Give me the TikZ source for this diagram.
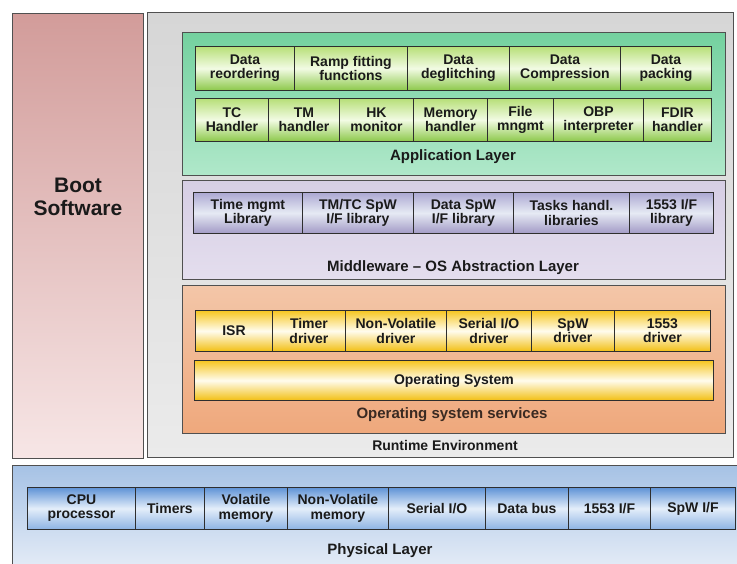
\documentclass[tikz,border=0pt]{standalone}
\usepackage{fontspec}
\setmainfont{Liberation Sans}
\usetikzlibrary{shadings}
\definecolor{txt}{HTML}{1A1A1A}
\definecolor{boxline}{HTML}{2E2E2E}
\definecolor{layline}{HTML}{505050}
\definecolor{bootT}{HTML}{D29C9A}
\definecolor{bootB}{HTML}{F7E6E6}
\definecolor{rteT}{HTML}{D6D6D6}
\definecolor{rteB}{HTML}{EBEBEB}
\definecolor{appLT}{HTML}{74D19F}
\definecolor{appLB}{HTML}{B0E8CA}
\definecolor{appT}{HTML}{B7DF78}
\definecolor{appM}{HTML}{F2FBE4}
\definecolor{appB}{HTML}{8CC84A}
\definecolor{mwT}{HTML}{D6CEE4}
\definecolor{mwB}{HTML}{E4DEEE}
\definecolor{libT}{HTML}{ACA8D2}
\definecolor{libM}{HTML}{E6EAF4}
\definecolor{libB}{HTML}{A29AC6}
\definecolor{osT}{HTML}{F3C6A8}
\definecolor{osB}{HTML}{EFA87C}
\definecolor{drvT}{HTML}{F6C620}
\definecolor{drvM}{HTML}{FFFCEE}
\definecolor{drvB}{HTML}{F2BF12}
\definecolor{phyT}{HTML}{A6C2E5}
\definecolor{phyB}{HTML}{E9EFF8}
\definecolor{pbT}{HTML}{5F93D6}
\definecolor{pbM}{HTML}{E4EEFA}
\definecolor{pbB}{HTML}{8DB3E3}
\definecolor{osstxt}{HTML}{3A2A22}
\tikzset{
  cell/.style={draw=boxline, line width=0.9pt, inner sep=0pt, align=center,
    font=\bfseries\fontsize{14}{14.2}\selectfont, text=txt},
  appcell/.style={cell, top color=appT, bottom color=appB, middle color=appM},
  libcell/.style={cell, top color=libT, bottom color=libB, middle color=libM},
  drvcell/.style={cell, top color=drvT, bottom color=drvB, middle color=drvM},
  phycell/.style={cell, top color=pbT, bottom color=pbB, middle color=pbM},
  layer/.style={draw=layline, line width=1.1pt, inner sep=0pt},
  bootlayer/.style={layer, top color=bootT, bottom color=bootB},
  rtelayer/.style={layer, top color=rteT, bottom color=rteB},
  applayer/.style={layer, top color=appLT, bottom color=appLB},
  mwlayer/.style={layer, top color=mwT, bottom color=mwB},
  oslayer/.style={layer, top color=osT, bottom color=osB},
  phylayer/.style={layer, top color=phyT, bottom color=phyB},
  laylbl/.style={font=\bfseries\fontsize{15}{15}\selectfont, text=txt, inner sep=0pt},
}
\newcommand\cellbox[7]{% style, name, x1, y1, x2, y2, text
  \node[#1, anchor=north west, minimum width={(#5-#3)*1pt},
        minimum height={(#6-#4)*1pt}] (#2) at (#3,#4) {#7};}
\begin{document}
\begin{tikzpicture}[x=1pt,y=-1pt]
\useasboundingbox (0,0) rectangle (737,564);
\clip (0,0) rectangle (737,564);
\fill[white] (0,0) rectangle (737,564);
% layers
\cellbox{bootlayer}{boot}{12}{13}{143}{458}{}
\cellbox{rtelayer}{rte}{147}{12}{733}{457}{}
\cellbox{applayer}{app}{182}{32}{725}{175}{}
\cellbox{mwlayer}{mw}{182}{180}{725}{279}{}
\cellbox{oslayer}{oss}{182}{285}{725}{433}{}
\cellbox{phylayer}{phy}{12}{465}{745}{575}{}
% labels
\node[font=\bfseries\fontsize{21}{23}\selectfont, text=txt, align=center, inner sep=0pt] (bootlbl) at (78,197) {Boot\\Software};
\node[laylbl] (applbl) at (453,157) {Application Layer};
\node[laylbl] (mwlbl) at (453,268) {Middleware -- OS Abstraction Layer};
\node[laylbl, text=osstxt] (osslbl) at (452,415) {Operating system services};
\node[laylbl, font=\bfseries\fontsize{14}{14}\selectfont] (rtelbl) at (445,445) {Runtime Environment};
\node[laylbl] (phylbl) at (380,551) {Physical Layer};
% application row 1
\cellbox{appcell}{a1}{195}{46}{294}{90}{Data\\reordering}
\cellbox{appcell}{a2}{294}{46}{407}{90}{Ramp fitting\\functions}
\cellbox{appcell}{a3}{407}{46}{509}{90}{Data\\deglitching}
\cellbox{appcell}{a4}{509}{46}{620}{90}{Data\\Compression}
\cellbox{appcell}{a5}{620}{46}{711}{90}{Data\\packing}
% application row 2
\cellbox{appcell}{b1}{195}{98}{268}{141}{TC\\Handler}
\cellbox{appcell}{b2}{268}{98}{339}{141}{TM\\handler}
\cellbox{appcell}{b3}{339}{98}{413}{141}{HK\\monitor}
\cellbox{appcell}{b4}{413}{98}{487}{141}{Memory\\handler}
\cellbox{appcell}{b5}{487}{98}{553}{141}{File\\mngmt}
\cellbox{appcell}{b6}{553}{98}{643}{141}{OBP\\interpreter}
\cellbox{appcell}{b7}{643}{98}{711}{141}{FDIR\\handler}
% middleware libraries
\cellbox{libcell}{l1}{193}{192}{302}{233}{Time mgmt\\Library}
\cellbox{libcell}{l2}{302}{192}{413}{233}{TM/TC SpW\\I/F library}
\cellbox{libcell}{l3}{413}{192}{513}{233}{Data SpW\\I/F library}
\cellbox{libcell}{l4}{513}{192}{629}{233}{Tasks handl.\\libraries}
\cellbox{libcell}{l5}{629}{192}{713}{233}{1553 I/F\\library}
% drivers
\cellbox{drvcell}{d1}{195}{310}{272}{351}{ISR}
\cellbox{drvcell}{d2}{272}{310}{345}{351}{Timer\\driver}
\cellbox{drvcell}{d3}{345}{310}{446}{351}{Non-Volatile\\driver}
\cellbox{drvcell}{d4}{446}{310}{531}{351}{Serial I/O\\driver}
\cellbox{drvcell}{d5}{531}{310}{614}{351}{SpW\\driver}
\cellbox{drvcell}{d6}{614}{310}{710}{351}{1553\\driver}
\cellbox{drvcell}{os}{194}{360}{713}{400}{Operating System}
% physical
\cellbox{phycell}{p1}{27}{487}{135}{529}{CPU\\processor}
\cellbox{phycell}{p2}{135}{487}{204}{529}{Timers}
\cellbox{phycell}{p3}{204}{487}{287}{529}{Volatile\\memory}
\cellbox{phycell}{p4}{287}{487}{388}{529}{Non-Volatile\\memory}
\cellbox{phycell}{p5}{388}{487}{485}{529}{Serial I/O}
\cellbox{phycell}{p6}{485}{487}{568}{529}{Data bus}
\cellbox{phycell}{p7}{568}{487}{650}{529}{1553 I/F}
\cellbox{phycell}{p8}{650}{487}{735}{529}{SpW I/F}
\end{tikzpicture}
\end{document}
